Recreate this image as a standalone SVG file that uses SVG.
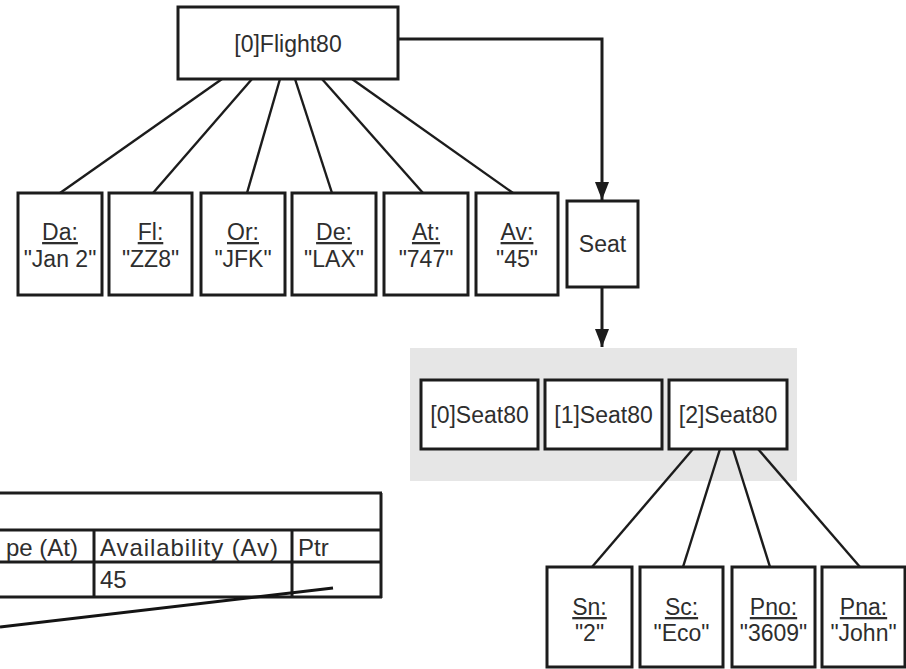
<svg xmlns="http://www.w3.org/2000/svg" width="906" height="669" viewBox="0 0 906 669">
  <style>
    .box { fill: #ffffff; stroke: #1c1c1c; stroke-width: 3; }
    .lbl { font-family: "Liberation Sans", Arial, sans-serif; font-size: 23px; fill: #2e2e2e; text-anchor: middle; }
    .key { text-decoration: underline; }
    .edge { stroke: #1c1c1c; stroke-width: 2.4; fill: none; }
    .link { stroke: #1c1c1c; stroke-width: 3; fill: none; }
    .tbl { font-family: "Liberation Sans", Arial, sans-serif; font-size: 24px; fill: #2e2e2e; }
    .rule { stroke: #1c1c1c; stroke-width: 3; }
  </style>
  <defs>
    <marker id="arrow" markerUnits="userSpaceOnUse" markerWidth="18" markerHeight="14" viewBox="0 0 18 14" refX="18" refY="7" orient="auto">
      <path d="M0,0 L18,7 L0,14 Z" fill="#1c1c1c"/>
    </marker>
  </defs>
  <rect width="906" height="669" fill="#ffffff"/>

  <!-- seat array backdrop -->
  <rect id="seat-array" x="410" y="348" width="387" height="133" fill="#e6e6e6"/>

  <!-- table fragment -->
  <g id="table">
    <line class="rule" x1="0" y1="493" x2="382" y2="493"/>
    <line class="rule" x1="0" y1="530" x2="382" y2="530"/>
    <line class="rule" x1="0" y1="562" x2="382" y2="562"/>
    <line class="rule" x1="0" y1="597" x2="382" y2="597"/>
    <line class="rule" x1="381" y1="493" x2="381" y2="598"/>
    <line class="rule" x1="94" y1="530" x2="94" y2="597"/>
    <line class="rule" x1="292" y1="530" x2="292" y2="597"/>
    <text class="tbl" x="78" y="556" text-anchor="end">pe (At)</text>
    <text class="tbl" x="100" y="556" textLength="178" lengthAdjust="spacing">Availability (Av)</text>
    <text class="tbl" x="298" y="556">Ptr</text>
    <text class="tbl" x="100" y="588">45</text>
    <line x1="0" y1="627" x2="333" y2="588" stroke="#141414" stroke-width="3"/>
  </g>

  <!-- connectors -->
  <g id="connectors">
    <line class="edge" x1="222" y1="79" x2="60" y2="193"/>
    <line class="edge" x1="252" y1="79" x2="153" y2="193"/>
    <line class="edge" x1="280" y1="79" x2="247" y2="193"/>
    <line class="edge" x1="295" y1="79" x2="332" y2="193"/>
    <line class="edge" x1="322" y1="79" x2="423" y2="193"/>
    <line class="edge" x1="352" y1="79" x2="513" y2="193"/>
    <polyline class="link" points="398,39 602,39 602,200" marker-end="url(#arrow)"/>
    <line class="link" x1="602" y1="287" x2="602" y2="347" marker-end="url(#arrow)"/>
    <line class="edge" x1="693" y1="449" x2="592" y2="567"/>
    <line class="edge" x1="720" y1="449" x2="683" y2="567"/>
    <line class="edge" x1="733" y1="449" x2="770" y2="567"/>
    <line class="edge" x1="758" y1="449" x2="860" y2="567"/>
  </g>

  <!-- flight record -->
  <g id="flight">
    <rect class="box" x="178" y="7" width="220" height="72"/>
    <text class="lbl" x="288" y="52">[0]Flight80</text>
  </g>

  <!-- flight fields -->
  <g id="field-da">
    <rect class="box" x="18" y="193" width="84" height="102"/>
    <text class="lbl key" x="60" y="240">Da:</text>
    <text class="lbl" x="60" y="267">"Jan 2"</text>
  </g>
  <g id="field-fl">
    <rect class="box" x="109" y="193" width="83" height="102"/>
    <text class="lbl key" x="150.5" y="240">Fl:</text>
    <text class="lbl" x="150.5" y="267">"ZZ8"</text>
  </g>
  <g id="field-or">
    <rect class="box" x="201" y="193" width="84" height="102"/>
    <text class="lbl key" x="243" y="240">Or:</text>
    <text class="lbl" x="243" y="267">"JFK"</text>
  </g>
  <g id="field-de">
    <rect class="box" x="292" y="193" width="84" height="102"/>
    <text class="lbl key" x="334" y="240">De:</text>
    <text class="lbl" x="334" y="267">"LAX"</text>
  </g>
  <g id="field-at">
    <rect class="box" x="384" y="193" width="84" height="102"/>
    <text class="lbl key" x="426" y="240">At:</text>
    <text class="lbl" x="426" y="267">"747"</text>
  </g>
  <g id="field-av">
    <rect class="box" x="476" y="193" width="82" height="102"/>
    <text class="lbl key" x="517" y="240">Av:</text>
    <text class="lbl" x="517" y="267">"45"</text>
  </g>
  <g id="seat-ref">
    <rect class="box" x="567" y="201" width="71" height="86"/>
    <text class="lbl" x="602.5" y="252">Seat</text>
  </g>

  <!-- seat records -->
  <g id="seat0">
    <rect class="box" x="421" y="380" width="117" height="69"/>
    <text class="lbl" x="479.5" y="423">[0]Seat80</text>
  </g>
  <g id="seat1">
    <rect class="box" x="545" y="380" width="117" height="69"/>
    <text class="lbl" x="603.5" y="423">[1]Seat80</text>
  </g>
  <g id="seat2">
    <rect class="box" x="669" y="380" width="118" height="69"/>
    <text class="lbl" x="728" y="423">[2]Seat80</text>
  </g>

  <!-- seat fields -->
  <g id="field-sn">
    <rect class="box" x="547" y="567" width="85" height="100"/>
    <text class="lbl key" x="589.5" y="615">Sn:</text>
    <text class="lbl" x="589.5" y="641">"2"</text>
  </g>
  <g id="field-sc">
    <rect class="box" x="640" y="567" width="83" height="100"/>
    <text class="lbl key" x="681.5" y="615">Sc:</text>
    <text class="lbl" x="681.5" y="641">"Eco"</text>
  </g>
  <g id="field-pno">
    <rect class="box" x="732" y="567" width="83" height="100"/>
    <text class="lbl key" x="773.5" y="615">Pno:</text>
    <text class="lbl" x="773.5" y="641">"3609"</text>
  </g>
  <g id="field-pna">
    <rect class="box" x="822" y="567" width="83" height="100"/>
    <text class="lbl key" x="863.5" y="615">Pna:</text>
    <text class="lbl" x="863.5" y="641">"John"</text>
  </g>
</svg>
